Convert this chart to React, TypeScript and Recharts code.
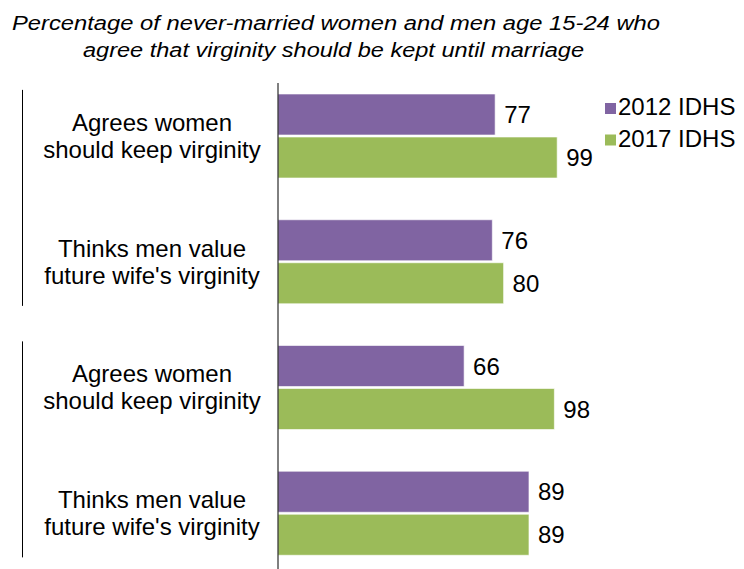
import React from 'react';
import { BarChart, Bar, XAxis, YAxis, LabelList } from 'recharts';

const categories = [
  'Agrees women|should keep virginity',
  "Thinks men value|future wife's virginity",
  'Agrees women |should keep virginity',
  "Thinks men value |future wife's virginity",
];
const series2012 = [77, 76, 66, 89];
const series2017 = [99, 80, 98, 89];
const seriesNames = ['2012 IDHS', '2017 IDHS'];
const colors = ['#8064A2', '#9BBB59'];
const titleLines = [
  'Percentage of never-married women and men age 15-24 who',
  'agree that virginity should be kept until marriage',
];

const data = categories.map((c, i) => ({ cat: c, v2012: series2012[i], v2017: series2017[i] }));

const FONT = '"Liberation Sans", Arial, sans-serif';

const CatTick = (props: any) => {
  const { y, payload, index } = props;
  const lines = String(payload.value).split('|').map((s) => s.trim());
  return (
    <g>
      {(index === 0 || index === 2) && (
        <line x1={22.5} x2={22.5} y1={y - 46} y2={y + 170} stroke="#000" strokeWidth={1} />
      )}
      <text x={152} y={y} textAnchor="middle" fontFamily={FONT} fontSize={24} fill="#000">
        <tspan x={152} dy={-5}>{lines[0]}</tspan>
        <tspan x={152} dy={27}>{lines[1]}</tspan>
      </text>
    </g>
  );
};

export default function App() {
  return (
    <div style={{ position: 'absolute', left: 0, top: 0, width: 744, height: 569, overflow: 'hidden', background: '#fff' }}>
      <BarChart
        width={744}
        height={576}
        data={data}
        layout="vertical"
        margin={{ top: 83, right: 184, bottom: 0, left: 0 }}
        barSize={41}
        barGap={2}
        style={{ position: 'absolute', left: 0, top: 0 }}
      >
        <XAxis type="number" domain={[0, 100]} hide />
        <YAxis
          type="category"
          dataKey="cat"
          width={278}
          padding={{ top: -10, bottom: 0 }}
          axisLine={{ stroke: '#000', strokeWidth: 1 }}
          tickLine={false}
          tick={<CatTick />}
          interval={0}
        />
        <Bar dataKey="v2012" name={seriesNames[0]} fill={colors[0]} stroke="#ffffff" strokeOpacity={0.6} isAnimationActive={false}>
          <LabelList dataKey="v2012" position="right" offset={9} fontSize={24} fontFamily={FONT} fill="#000" />
        </Bar>
        <Bar dataKey="v2017" name={seriesNames[1]} fill={colors[1]} stroke="#ffffff" strokeOpacity={0.6} isAnimationActive={false}>
          <LabelList dataKey="v2017" position="right" offset={9} fontSize={24} fontFamily={FONT} fill="#000" />
        </Bar>
      </BarChart>
      <svg width={744} height={160} style={{ position: 'absolute', left: 0, top: 0 }}>
        <text x={336} y={30} textAnchor="middle" fontFamily={FONT} fontStyle="italic" fontSize={20} textLength={648} lengthAdjust="spacingAndGlyphs" fill="#000">
          {titleLines[0]}
        </text>
        <text x={333.5} y={57} textAnchor="middle" fontFamily={FONT} fontStyle="italic" fontSize={20} textLength={501} lengthAdjust="spacingAndGlyphs" fill="#000">
          {titleLines[1]}
        </text>
        {seriesNames.map((n, i) => (
          <g key={n}>
            <rect x={605} y={103 + i * 31.5} width={11} height={11} fill={colors[i]} />
            <text x={618} y={115 + i * 31.5} fontFamily={FONT} fontSize={24} fill="#000">
              {n}
            </text>
          </g>
        ))}
      </svg>
    </div>
  );
}
